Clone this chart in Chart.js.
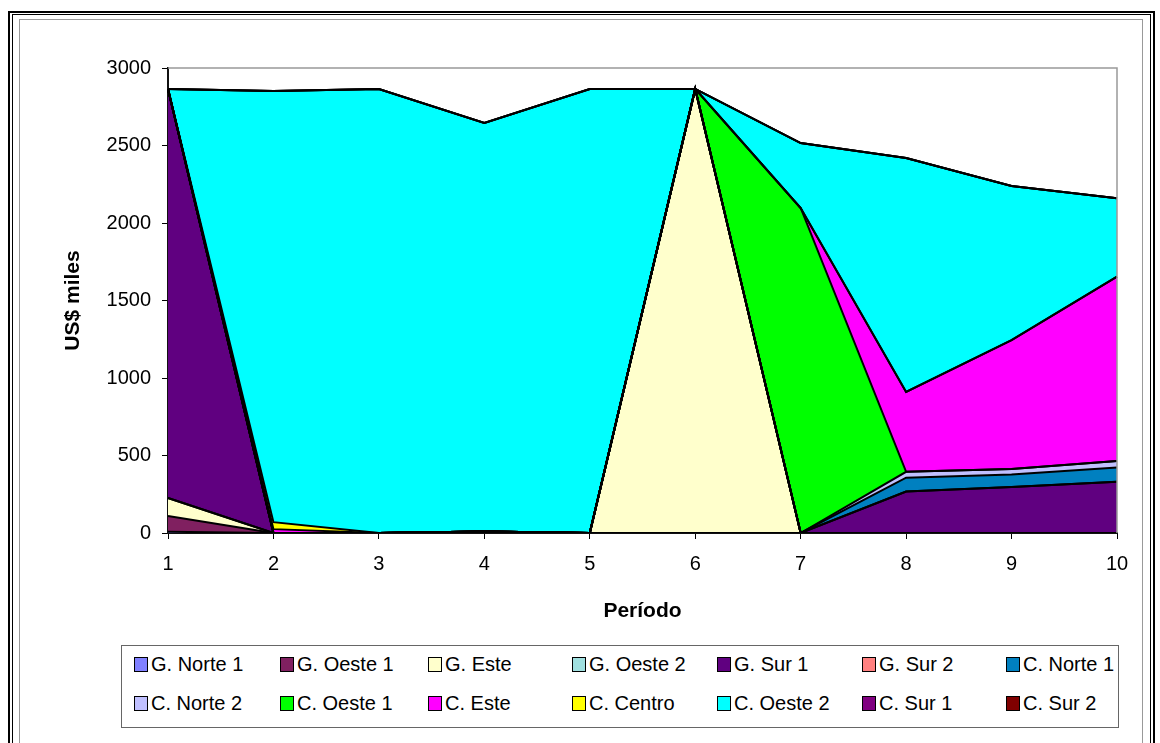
<!DOCTYPE html>
<html>
<head>
<meta charset="utf-8">
<script src="https://cdn.jsdelivr.net/npm/chart.js@4"></script>
<style>
  body { margin: 0; background: #fff; }
  #wrap { position: relative; width: 1160px; height: 743px; overflow: hidden; font-family: 'Liberation Sans', Arial, sans-serif; }
  .frame { position: absolute; pointer-events: none; }
  #legend { position: absolute; left: 121px; top: 645px; width: 996px; height: 81px; border: 1px solid #666; background: #fff; }
  .item { position: absolute; font-size: 20px; line-height: 20px; white-space: nowrap; color: #000; }
  .item span.box { display: inline-block; width: 12px; height: 13px; border: 1px solid #000; vertical-align: -1px; margin-right: 3px; }
</style>
</head>
<body>
<div id="wrap">
  <canvas id="myChart"></canvas>
  <div class="frame" style="left:8px;top:11px;width:1143px;height:760px;border:2px solid #000"></div>
  <div class="frame" style="left:12px;top:14px;width:1137px;height:760px;border:1px solid #000"></div>
  <div class="frame" style="left:19px;top:19px;width:1122px;height:760px;border:1px solid #999"></div>
  <div id="legend"></div>
</div>
<script>
// periodos
const periodos = ['1', '2', '3', '4', '5', '6', '7', '8', '9', '10']

const series = ['G. Norte 1', 'G. Oeste 1', 'G. Este', 'G. Oeste 2', 'G. Sur 1', 'G. Sur 2', 'C. Norte 1',
                'C. Norte 2', 'C. Oeste 1', 'C. Este', 'C. Centro', 'C. Oeste 2', 'C. Sur 1', 'C. Sur 2']
const colores = ['#8080FF', '#802060', '#FFFFCC', '#A0E0E0', '#600080', '#FF8080', '#0080C0',
                 '#C0C0FF', '#00FF00', '#FF00FF', '#FFFF00', '#00FFFF', '#800080', '#800000']

// valores en US$ miles
const gNorte1 = [8, 0, 0, 10, 0, 0, 0, 0, 0, 0]
const gOeste1 = [102, 0, 0, 0, 0, 0, 0, 0, 0, 0]
const gEste   = [116, 0, 0, 0, 0, 2865, 0, 0, 0, 0]
const gOeste2 = [0, 0, 0, 0, 0, 0, 0, 0, 0, 0]
const gSur1   = [2639, 0, 0, 0, 0, 0, 0, 268, 297, 331]
const gSur2   = [0, 0, 0, 0, 0, 0, 0, 0, 0, 0]
const cNorte1 = [0, 0, 0, 0, 0, 0, 0, 89, 81, 91]
const cNorte2 = [0, 0, 0, 0, 0, 0, 0, 38, 35, 42]
const cOeste1 = [0, 0, 0, 0, 0, 0, 2097, 0, 0, 0]
const cEste   = [0, 25, 0, 0, 0, 0, 0, 515, 832, 1190]
const cCentro = [0, 45, 0, 0, 0, 0, 0, 0, 0, 0]
const cOeste2 = [0, 2782, 2865, 2635, 2865, 0, 419, 1509, 994, 505]
const cSur1   = [0, 0, 0, 0, 0, 0, 0, 0, 0, 0]
const cSur2   = [0, 0, 0, 0, 0, 0, 0, 0, 0, 0]

const valores = [gNorte1, gOeste1, gEste, gOeste2, gSur1, gSur2, cNorte1,
                 cNorte2, cOeste1, cEste, cCentro, cOeste2, cSur1, cSur2]

const fuente = "'Liberation Sans', Arial, sans-serif"

const marco = {
    id: 'marco',
    afterDatasetsDraw(chart) {
        const {ctx, chartArea: a} = chart
        ctx.save()
        ctx.strokeStyle = '#999'
        ctx.lineWidth = 1.5
        ctx.beginPath()
        ctx.moveTo(a.left, a.top)
        ctx.lineTo(a.right, a.top)
        ctx.lineTo(a.right, a.bottom)
        ctx.stroke()
        ctx.restore()
    }
}

let ctx = document.getElementById('myChart')
let myChart = new Chart(ctx, {
    type: 'line',
    data: {
        labels: periodos,
        datasets: series.map((nombre, i) => ({
            label: nombre,
            data: valores[i],
            backgroundColor: colores[i],
            borderColor: '#000',
            borderWidth: 2,
            fill: i === 0 ? 'origin' : '-1',
            pointRadius: 0,
            tension: 0
        }))
    },
    options: {
        responsive: true,
        maintainAspectRatio: false,
        animation: false,
        layout: { padding: { left: 0, top: 68, right: 43, bottom: 110 } },
        plugins: {
            legend: { display: false },
            tooltip: { enabled: false },
            filler: { drawTime: 'beforeDatasetsDraw' }
        },
        scales: {
            x: {
                offset: false,
                afterFit: s => { s.height = 100 },
                grid: { drawOnChartArea: false, tickLength: 6, color: '#000' },
                border: { color: '#111', width: 2 },
                ticks: { color: '#000', padding: 13, maxRotation: 0, font: { family: fuente, size: 20 } },
                title: { display: true, text: 'Período', color: '#000', padding: { top: 0, bottom: 9 },
                         font: { family: fuente, size: 21, weight: 'bold' } }
            },
            y: {
                stacked: true,
                min: 0,
                max: 3000,
                afterFit: s => { s.width = 168 },
                grid: { drawOnChartArea: false, tickLength: 6, color: '#000' },
                border: { color: '#111', width: 2 },
                ticks: { stepSize: 500, color: '#000', padding: 11, font: { family: fuente, size: 20 },
                         callback: v => String(v) },
                title: { display: true, text: 'US$ miles', color: '#000', padding: { top: 61, bottom: 0 },
                         font: { family: fuente, size: 21, weight: 'bold' } }
            }
        }
    },
    plugins: [marco]
})

// leyenda en 7 columnas
const leyenda = document.getElementById('legend')
const columnas = [12, 158, 306, 450, 595, 740, 884]
const filas = [8, 47]
series.forEach((nombre, i) => {
    const d = document.createElement('div')
    d.className = 'item'
    d.style.left = columnas[i % 7] + 'px'
    d.style.top = filas[Math.floor(i / 7)] + 'px'
    d.innerHTML = '<span class="box" style="background:' + colores[i] + '"></span>' + nombre
    leyenda.appendChild(d)
})
</script>
</body>
</html>
